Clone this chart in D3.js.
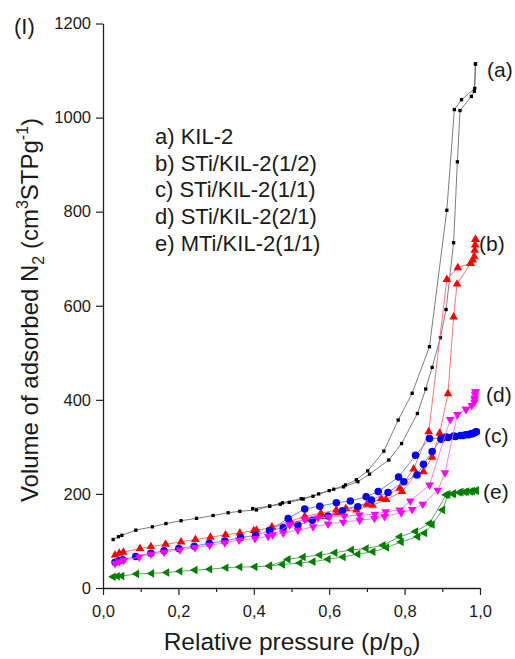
<!DOCTYPE html>
<html>
<head>
<meta charset="utf-8">
<script src="https://cdn.jsdelivr.net/npm/d3@7"></script>
<style>
  html, body { margin: 0; padding: 0; background: #fff; }
  svg { display: block; font-family: "Liberation Sans", Arial, sans-serif; }
</style>
</head>
<body>
<svg id="chart" width="515" height="659"></svg>
<script>
// N2 adsorption/desorption isotherms: relative pressure (p/p0) vs adsorbed volume

// (a) KIL-2
const aAdsP = [0.027,0.041,0.050,0.087,0.131,0.167,0.207,0.248,0.292,0.332,0.363,0.407,0.442,0.476,0.526,0.557,0.600,0.638,0.676,0.707,0.758,0.792,0.834,0.856,0.873,0.895,0.910,0.930,0.940,0.947,0.977,0.985,0.988];
const aAdsV = [103,109,112,123,130,137,143,148,154,160,163,166,174,181,190,195,207,215,226,242,272,307,371,423,469,532,592,734,906,1015,1045,1056,1114];
const aDesP = [0.988,0.986,0.951,0.932,0.912,0.866,0.820,0.783,0.745,0.702,0.672,0.643,0.612,0.572,0.531,0.494,0.470,0.442,0.397];
const aDesV = [1114,1062,1038,1017,803,513,414,357,291,249,230,219,210,200,189,182,178,174,169];

// (b) STi/KIL-2(1/2)
const bAdsP = [0.032,0.043,0.054,0.098,0.127,0.166,0.207,0.245,0.285,0.325,0.363,0.400,0.407,0.448,0.497,0.540,0.578,0.622,0.672,0.715,0.751,0.793,0.831,0.850,0.873,0.893,0.915,0.930,0.939,0.975,0.981,0.985,0.986,0.987,0.988];
const bAdsV = [70,74,76,84,88,93,98,103,108,113,117,122,123,128,139,146,152,160,166,176,188,205,242,247,278,329,413,576,646,690,697,704,718,729,741];
const bDesP = [0.988,0.975,0.941,0.912,0.864,0.824,0.787,0.738,0.700,0.644,0.619,0.578,0.535,0.497,0.448];
const bDesV = [741,690,681,656,332,253,212,190,178,169,166,159,152,142,130];

// (c) STi/KIL-2(1/1)
const cAdsP = [0.032,0.043,0.052,0.087,0.127,0.162,0.201,0.242,0.282,0.323,0.365,0.405,0.442,0.478,0.517,0.555,0.597,0.635,0.676,0.712,0.756,0.798,0.833,0.850,0.873,0.897,0.915,0.935,0.955,0.970,0.980,0.990];
const cAdsV = [55,58,60,67,74,79,84,89,95,100,107,112,122,128,134,144,153,164,173,187,203,226,240,263,290,316,320,322,324,326,328,332];
const cDesP = [0.990,0.985,0.975,0.962,0.948,0.930,0.910,0.897,0.866,0.829,0.784,0.730,0.698,0.656,0.619,0.575,0.535,0.491,0.442];
const cDesV = [332,330,328,326,324,323,321,318,318,282,236,205,194,185,181,174,168,148,122];

// (d) STi/KIL-2(2/1)
const dAdsP = [0.032,0.043,0.055,0.096,0.127,0.162,0.204,0.244,0.283,0.323,0.361,0.403,0.438,0.478,0.517,0.557,0.597,0.637,0.681,0.720,0.747,0.791,0.820,0.848,0.888,0.907,0.940,0.963,0.978,0.985,0.986,0.987,0.988];
const dAdsV = [52,56,59,66,72,76,81,86,91,96,102,105,110,117,123,130,136,140,144,148,152,160,167,178,208,245,369,380,388,395,404,411,417];
const dDesP = [0.988,0.986,0.963,0.921,0.866,0.815,0.787,0.750,0.721,0.680,0.640,0.600,0.570,0.535,0.495,0.450];
const dDesV = [417,400,380,358,219,185,166,162,157,155,153,151,149,146,134,113];

// (e) MTi/KIL-2(1/1)
const eAdsP = [0.027,0.038,0.050,0.089,0.129,0.169,0.204,0.244,0.283,0.326,0.363,0.403,0.442,0.476,0.522,0.557,0.597,0.637,0.676,0.716,0.752,0.791,0.835,0.853,0.873,0.901,0.915,0.930,0.945,0.960,0.975,0.990];
const eAdsV = [24,25,25.5,30,31,33,35.5,38,40,43,44.6,45,47,50,53,56,61,66,72,77,86,98,109,117,135,166,199,201,203,204,205,207];
const eDesP = [0.990,0.980,0.965,0.950,0.928,0.910,0.866,0.829,0.787,0.743,0.698,0.659,0.615,0.575,0.531,0.491,0.442];
const eDesV = [207,206,205,204,200,198,137,120,109,91,84,81,75,70,66,61,47];

// Axis ticks and text
const xMajorTicks = [0, 0.2, 0.4, 0.6, 0.8, 1.0];
const xMinorTicks = [0.1, 0.3, 0.5, 0.7, 0.9];
const yTicks = [0, 200, 400, 600, 800, 1000, 1200];
const legendLines = ["a) KIL-2", "b) STi/KIL-2(1/2)", "c) STi/KIL-2(1/1)", "d) STi/KIL-2(2/1)", "e) MTi/KIL-2(1/1)"];
const curveTags = ["(a)", "(b)", "(c)", "(d)", "(e)"];
const panelTag = "(I)";

// Series styling
const series = [
  { ads: [aAdsP, aAdsV], des: [aDesP, aDesV], color: "#000000", line: "#666666", shape: d3.symbolSquare, size: 11, rot: 0 },
  { ads: [bAdsP, bAdsV], des: [bDesP, bDesV], color: "#ff0000", line: "#ff5a5a", shape: d3.symbolTriangle, size: 32, rot: 0 },
  { ads: [cAdsP, cAdsV], des: [cDesP, cDesV], color: "#0000ff", line: "#5a6cff", shape: d3.symbolCircle, size: 44, rot: 0 },
  { ads: [dAdsP, dAdsV], des: [dDesP, dDesV], color: "#ff00ff", line: "#ff66ff", shape: d3.symbolTriangle, size: 32, rot: 180 },
  { ads: [eAdsP, eAdsV], des: [eDesP, eDesV], color: "#008000", line: "#3d9a3d", shape: d3.symbolTriangle, size: 32, rot: -90 }
];

const svg = d3.select("#chart");
const x = d3.scaleLinear().domain([0, 1]).range([103, 480]);
const y = d3.scaleLinear().domain([0, 1200]).range([588, 23.5]);
const FONT = "'Liberation Sans', Arial, sans-serif";

// Curves
const line = d3.line().x(d => x(d[0])).y(d => y(d[1]));
const zip = (P, V) => P.map((p, i) => [p, V[i]]);

series.forEach(s => {
  const g = svg.append("g");
  [s.ads, s.des].forEach(branch => {
    g.append("path")
      .attr("d", line(zip(branch[0], branch[1])))
      .attr("fill", "none")
      .attr("stroke", s.line)
      .attr("stroke-width", 0.85);
  });
  const sym = d3.symbol().type(s.shape).size(s.size);
  [s.ads, s.des].forEach(branch => {
    g.selectAll(null)
      .data(zip(branch[0], branch[1]))
      .enter().append("path")
      .attr("d", sym)
      .attr("transform", d => `translate(${x(d[0])},${y(d[1])}) rotate(${s.rot})`)
      .attr("fill", s.color);
  });
});

// Axes
const fmtX = d => d.toFixed(1).replace(".", ",");
svg.append("g").attr("transform", "translate(0,588)")
  .call(d3.axisBottom(x).tickValues(xMajorTicks).tickFormat(fmtX).tickSize(7).tickPadding(10.5).tickSizeOuter(0));
svg.append("g").attr("transform", "translate(0,588)")
  .call(d3.axisBottom(x).tickValues(xMinorTicks).tickFormat("").tickSize(4).tickSizeOuter(0))
  .select(".domain").remove();
svg.append("g").attr("transform", "translate(103,0)")
  .call(d3.axisLeft(y).tickValues(yTicks).tickFormat(d3.format("d")).tickSize(7).tickPadding(5).tickSizeOuter(0));

svg.selectAll(".domain").attr("stroke", "#222").attr("stroke-width", 1.3);
svg.selectAll(".tick line").attr("stroke", "#222").attr("stroke-width", 1.2);
svg.selectAll(".tick text").attr("font-family", FONT).attr("font-size", 16.5).attr("fill", "#1a1a1a");

// Axis titles
const xt = svg.append("text")
  .attr("x", 292).attr("y", 650)
  .attr("text-anchor", "middle")
  .attr("font-family", FONT).attr("font-size", 24.5).attr("fill", "#1a1a1a");
xt.append("tspan").text("Relative pressure (p/p");
xt.append("tspan").attr("font-size", 16).attr("dy", 6).text("o");
xt.append("tspan").attr("dy", -6).text(")");

const yt = svg.append("text")
  .attr("transform", "translate(38,310) rotate(-90)")
  .attr("text-anchor", "middle")
  .attr("font-family", FONT).attr("font-size", 24).attr("fill", "#1a1a1a");
yt.append("tspan").text("Volume of adsorbed N");
yt.append("tspan").attr("font-size", 16).attr("dy", 6).text("2");
yt.append("tspan").attr("dy", -6).text(" (cm");
yt.append("tspan").attr("font-size", 16).attr("dy", -10).text("3");
yt.append("tspan").attr("dy", 10).text("STPg");
yt.append("tspan").attr("font-size", 16).attr("dy", -10).text("-1");
yt.append("tspan").attr("dy", 10).text(")");

// Panel tag
svg.append("text").attr("x", 14).attr("y", 34)
  .attr("font-family", FONT).attr("font-size", 22).attr("fill", "#1a1a1a")
  .text(panelTag);

// Legend text block
svg.append("g").selectAll("text")
  .data(legendLines).enter().append("text")
  .attr("x", 155).attr("y", (d, i) => 144 + i * 26.7)
  .attr("font-family", FONT).attr("font-size", 22).attr("fill", "#1a1a1a")
  .text(d => d);

// Curve tags at the high-pressure end
const tagPos = [[487, 77], [479, 251], [484, 443], [486, 402], [483, 499]];
svg.append("g").selectAll("text")
  .data(curveTags).enter().append("text")
  .attr("x", (d, i) => tagPos[i][0]).attr("y", (d, i) => tagPos[i][1])
  .attr("font-family", FONT).attr("font-size", 21).attr("fill", "#1a1a1a")
  .text(d => d);
</script>
</body>
</html>
